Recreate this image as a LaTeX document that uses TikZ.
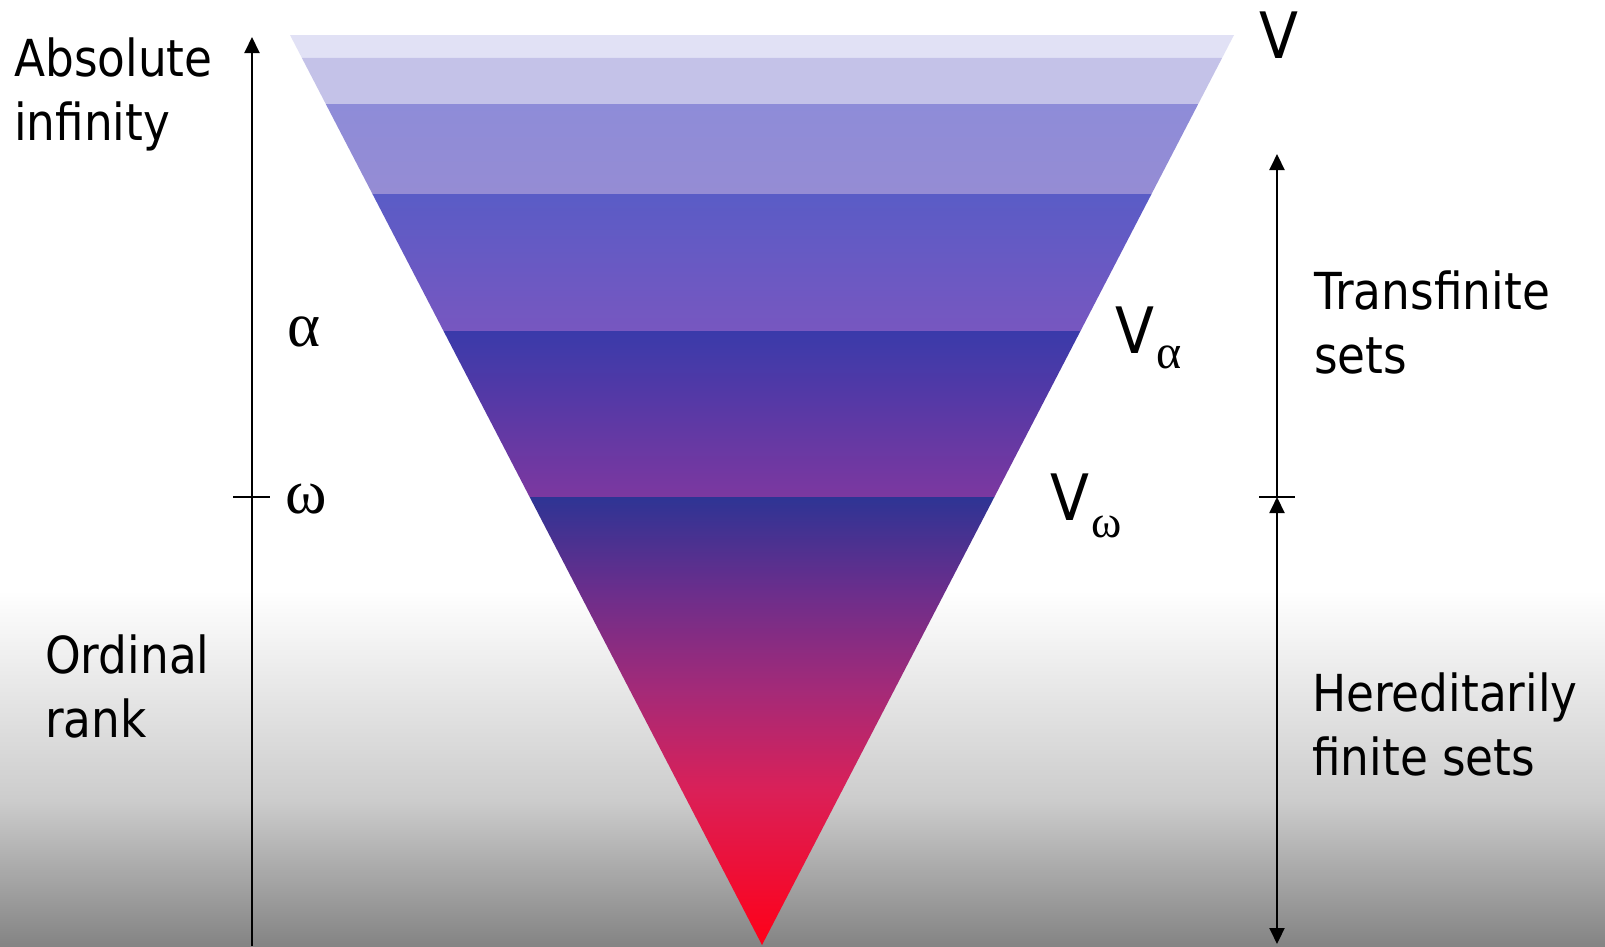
\documentclass[tikz,border=0pt]{standalone}
\usepackage{fontspec}
\setmainfont[FakeStretch=0.89]{DejaVu Sans}
\newfontfamily\grk{Liberation Serif}
\usetikzlibrary{arrows.meta,calc}
\definecolor{bgmid}{HTML}{CCCCCC}
\definecolor{bgbot}{HTML}{848484}
\definecolor{bA}{HTML}{E1E1F5}
\definecolor{bB}{HTML}{C4C2E8}
\definecolor{bCt}{HTML}{8E8CD8}
\definecolor{bCb}{HTML}{958CD4}
\definecolor{bDt}{HTML}{5A5CC6}
\definecolor{bDb}{HTML}{7757C0}
\definecolor{bEt}{HTML}{3A3AAA}
\definecolor{bEb}{HTML}{7C38A0}
\definecolor{bF0}{HTML}{2E3494}
\definecolor{bF1}{HTML}{6A2E8C}
\definecolor{bF2}{HTML}{A42A78}
\definecolor{bF3}{HTML}{DA2058}
\definecolor{bF4}{HTML}{FF0018}
\begin{document}
\begin{tikzpicture}[x=1pt,y=-1pt,
  lbl/.style={anchor=base west, inner sep=0pt, align=left, font=\fontsize{51}{64}\selectfont},
  bigv/.style={anchor=base west, inner sep=0pt, font=\fontsize{64}{64}\selectfont},
  greek/.style={anchor=base west, inner sep=0pt, font=\grk\fontsize{63}{63}\selectfont},
  axis/.style={line width=2pt, black},
  tip/.style={-{Triangle[length=16pt,width=15pt]}},
  tick/.style={line width=2pt, black}]
\useasboundingbox (0,0) rectangle (1605,946);
\fill[white] (0,0) rectangle (1605,946);
\shade[top color=white, bottom color=bgmid] (0,590) rectangle (1605,801);
\shade[top color=bgmid, bottom color=bgbot] (0,800) rectangle (1605,946);
% triangle
\coordinate (TL) at (290,35);
\coordinate (TR) at (1234,35);
\coordinate (AP) at (762,945);
\foreach \n/\t in {1/0.025275,2/0.075824,3/0.174725,4/0.325275,5/0.507692,6/0.609890,7/0.719780,8/0.829670}{
  \coordinate (L\n) at ($(TL)!\t!(AP)$);
  \coordinate (R\n) at ($(TR)!\t!(AP)$);
}
\fill[bA] (TL) -- (TR) -- (R1) -- (L1) -- cycle;
\fill[bB] (L1) -- (R1) -- (R2) -- (L2) -- cycle;
\shade[top color=bCt, bottom color=bCb] (L2) -- (R2) -- (R3) -- (L3) -- cycle;
\shade[top color=bDt, bottom color=bDb] (L3) -- (R3) -- (R4) -- (L4) -- cycle;
\shade[top color=bEt, bottom color=bEb] (L4) -- (R4) -- (R5) -- (L5) -- cycle;
\shade[top color=bF0, bottom color=bF1] (L5) -- (R5) -- (R6) -- (L6) -- cycle;
\shade[top color=bF1, bottom color=bF2] (L6) -- (R6) -- (R7) -- (L7) -- cycle;
\shade[top color=bF2, bottom color=bF3] (L7) -- (R7) -- (R8) -- (L8) -- cycle;
\shade[top color=bF3, bottom color=bF4] (L8) -- (R8) -- (AP) -- cycle;
% left axis
\coordinate (lb) at (252,946);
\coordinate (lt) at (252,37);
\coordinate (lk1) at (233,497);
\coordinate (lk2) at (270,497);
\draw[axis,tip] (lb) -- (lt);
\draw[tick] (lk1) -- (lk2);
% right axis
\coordinate (rt) at (1277,154);
\coordinate (rm) at (1277,497);
\coordinate (rb) at (1277,944);
\coordinate (rk1) at (1259,497);
\coordinate (rk2) at (1295,497);
\draw[axis,tip] (rm) -- (rt);
\draw[axis,{Triangle[length=16pt,width=15pt]}-{Triangle[length=16pt,width=15pt]}] (rm) -- (rb);
\draw[tick] (rk1) -- (rk2);
% labels (base anchor = last line's baseline)
\node[lbl] (absinf) at (14,140) {Absolute\\infinity};
\node[lbl] (ordrank) at (45,737) {Ordinal\\rank};
\node[lbl] (transf) at (1314,373) {Transfinite\\sets};
\node[lbl] (hered) at (1312,775) {Hereditarily\\finite sets};
\node[greek] (alpha) at (287,346) {α};
\node[greek] (omega) at (285,513) {ω};
\node[bigv] (V) at (1259,58) {V};
\node[bigv] (Va) at (1115,353) {V\hspace{2pt}\raisebox{-15pt}{\grk\fontsize{48}{48}\selectfont α}};
\node[bigv] (Vw) at (1050,520) {V\hspace{2pt}\raisebox{-17pt}{\grk\fontsize{46}{46}\selectfont ω}};
\end{tikzpicture}
\end{document}
